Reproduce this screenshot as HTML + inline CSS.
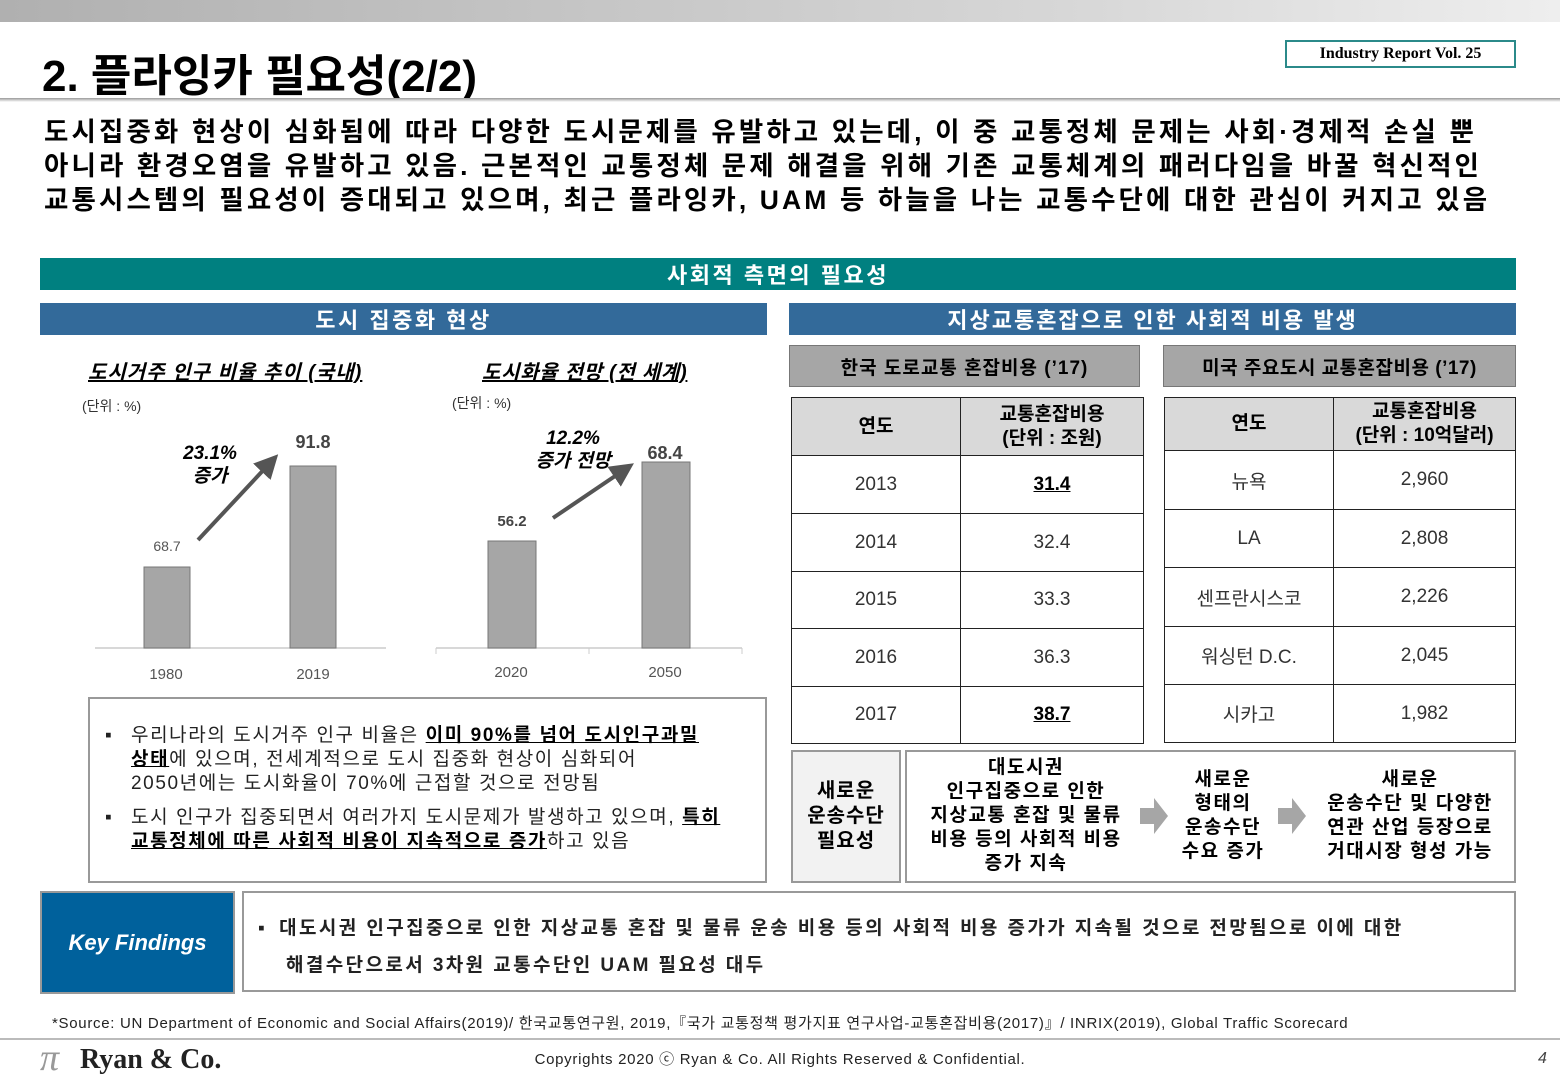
<!DOCTYPE html>
<html><head><meta charset="utf-8"><style>
*{margin:0;padding:0;box-sizing:border-box}
body{width:1560px;height:1080px;position:relative;background:#fff;font-family:"Liberation Sans","Noto Sans CJK KR",sans-serif;color:#000;overflow:hidden}
.a{position:absolute}
.c{display:flex;align-items:center;justify-content:center;text-align:center}
table{border-collapse:collapse;position:absolute}
td{border:1.5px solid #222;text-align:center;font-size:19px;color:#333}
th{border:1.5px solid #222;background:#d9d9d9;font-size:19px;font-weight:bold;line-height:24px}
.u{text-decoration:underline;font-weight:bold;color:#000}
</style></head><body>
<div class="a" style="left:0;top:0;width:1560px;height:22px;background:linear-gradient(90deg,#b0b0b0,#d8d8d8 70%,#eee)"></div>
<div class="a" style="left:42px;top:40px;font-size:44px;font-weight:bold;letter-spacing:0px">2. 플라잉카 필요성(2/2)</div>
<div class="a" style="left:0;top:98px;width:1560px;height:4px;background:linear-gradient(180deg,#999,#fff)"></div>
<div class="a c" style="left:1285px;top:40px;width:231px;height:28px;border:2px solid #2b8a8a;font-family:'Liberation Serif',serif;font-weight:bold;font-size:16px">Industry Report Vol. 25</div>
<div class="a" style="left:44px;top:115px;font-size:26.5px;font-weight:bold;line-height:34px;white-space:nowrap;letter-spacing:3.1px">도시집중화 현상이 심화됨에 따라 다양한 도시문제를 유발하고 있는데, 이 중 교통정체 문제는 사회·경제적 손실 뿐<br>아니라 환경오염을 유발하고 있음. 근본적인 교통정체 문제 해결을 위해 기존 교통체계의 패러다임을 바꿀 혁신적인<br>교통시스템의 필요성이 증대되고 있으며, 최근 플라잉카, UAM 등 하늘을 나는 교통수단에 대한 관심이 커지고 있음</div>
<div class="a c" style="left:40px;top:258px;width:1476px;height:32px;background:#008080;color:#fff;font-size:22px;font-weight:bold;letter-spacing:2.5px">사회적 측면의 필요성</div>
<div class="a c" style="left:40px;top:303px;width:727px;height:32px;background:#336a9a;color:#fff;font-size:22px;font-weight:bold;letter-spacing:2.5px">도시 집중화 현상</div>
<div class="a c" style="left:789px;top:303px;width:727px;height:32px;background:#336a9a;color:#fff;font-size:22px;font-weight:bold;letter-spacing:2px">지상교통혼잡으로 인한 사회적 비용 발생</div>
<div class="a" style="left:88px;top:356px;font-size:20px;font-style:italic;font-weight:bold;text-decoration:underline;letter-spacing:1px">도시거주 인구 비율 추이 (국내)</div>
<div class="a" style="left:482px;top:356px;font-size:20px;font-style:italic;font-weight:bold;text-decoration:underline;letter-spacing:0.7px">도시화율 전망 (전 세계)</div>
<div class="a" style="left:82px;top:396px;font-size:14px;color:#333">(단위 : %)</div>
<div class="a" style="left:452px;top:393px;font-size:14px;color:#333">(단위 : %)</div>
<svg class="a" style="left:0;top:0" width="780" height="700">
<defs><marker id="m" markerWidth="6" markerHeight="6" refX="3" refY="3" orient="auto"><path d="M0,0L6,3L0,6z" fill="#555"/></marker></defs>
<line x1="95" y1="648" x2="386" y2="648" stroke="#ccc" stroke-width="1.5"/>
<line x1="436" y1="648" x2="742" y2="648" stroke="#ccc" stroke-width="1.5"/>
<line x1="589" y1="648" x2="589" y2="654" stroke="#ccc"/><line x1="436" y1="648" x2="436" y2="654" stroke="#ccc"/><line x1="742" y1="648" x2="742" y2="654" stroke="#ccc"/>
<rect x="144" y="567" width="46" height="81" fill="#a6a6a6" stroke="#777"/>
<rect x="290" y="466" width="46" height="182" fill="#a6a6a6" stroke="#777"/>
<rect x="488" y="541" width="48" height="107" fill="#a6a6a6" stroke="#777"/>
<rect x="642" y="462" width="48" height="186" fill="#a6a6a6" stroke="#777"/>
<line x1="198" y1="540" x2="270" y2="463" stroke="#555" stroke-width="4" marker-end="url(#m)"/>
<line x1="553" y1="518" x2="624" y2="470" stroke="#555" stroke-width="4" marker-end="url(#m)"/>
<g font-family="Liberation Sans,Noto Sans CJK KR,sans-serif" text-anchor="middle">
<text x="167" y="551" font-size="14" fill="#555">68.7</text>
<text x="313" y="448" font-size="18" font-weight="bold" fill="#444">91.8</text>
<text x="512" y="526" font-size="15" font-weight="bold" fill="#444">56.2</text>
<text x="665" y="459" font-size="18" font-weight="bold" fill="#444">68.4</text>
<text x="166" y="679" font-size="15" fill="#555">1980</text>
<text x="313" y="679" font-size="15" fill="#555">2019</text>
<text x="511" y="677" font-size="15" fill="#555">2020</text>
<text x="665" y="677" font-size="15" fill="#555">2050</text>
<g font-size="19" font-weight="bold" font-style="italic"><text x="210" y="459">23.1%</text><text x="210" y="482">증가</text><text x="573" y="444">12.2%</text><text x="573" y="467">증가 전망</text></g>
</g></svg>
<div class="a" style="left:88px;top:697px;width:679px;height:186px;border:2px solid #999"></div>
<div class="a" style="left:105px;top:724px;width:660px;font-size:19px;line-height:24px;color:#222;letter-spacing:1.6px;white-space:nowrap">
<div style="padding-left:26px;position:relative"><span style="position:absolute;left:0">▪</span>우리나라의 도시거주 인구 비율은 <span class="u">이미 90%를 넘어 도시인구과밀<br>상태</span>에 있으며, 전세계적으로 도시 집중화 현상이 심화되어<br>2050년에는 도시화율이 70%에 근접할 것으로 전망됨</div>
<div style="padding-left:26px;position:relative;margin-top:10px"><span style="position:absolute;left:0">▪</span>도시 인구가 집중되면서 여러가지 도시문제가 발생하고 있으며, <span class="u">특히<br>교통정체에 따른 사회적 비용이 지속적으로 증가</span>하고 있음</div></div>
<div class="a c" style="left:789px;top:345px;width:351px;height:42px;background:#a6a6a6;border:1.5px solid #777;font-size:19px;font-weight:bold;letter-spacing:1px">한국 도로교통 혼잡비용 (’17)</div>
<div class="a c" style="left:1163px;top:345px;width:353px;height:42px;background:#a6a6a6;border:1.5px solid #777;font-size:19px;font-weight:bold;letter-spacing:0.5px">미국 주요도시 교통혼잡비용 (’17)</div>
<table style="left:791px;top:397px;width:353px">
<tr style="height:58px"><th style="width:169px">연도</th><th>교통혼잡비용<br>(단위 : 조원)</th></tr>
<tr style="height:58px"><td>2013</td><td class="u">31.4</td></tr>
<tr style="height:58px"><td>2014</td><td>32.4</td></tr>
<tr style="height:57px"><td>2015</td><td>33.3</td></tr>
<tr style="height:58px"><td>2016</td><td>36.3</td></tr>
<tr style="height:57px"><td>2017</td><td class="u">38.7</td></tr></table>
<table style="left:1164px;top:397px;width:352px">
<tr style="height:53px"><th style="width:169px">연도</th><th>교통혼잡비용<br>(단위 : 10억달러)</th></tr>
<tr style="height:59px"><td>뉴욕</td><td>2,960</td></tr>
<tr style="height:58px"><td>LA</td><td>2,808</td></tr>
<tr style="height:59px"><td>센프란시스코</td><td>2,226</td></tr>
<tr style="height:58px"><td>워싱턴 D.C.</td><td>2,045</td></tr>
<tr style="height:58px"><td>시카고</td><td>1,982</td></tr></table>
<div class="a c" style="left:791px;top:750px;width:110px;height:133px;border:2px solid #999;background:#f2f2f2;font-size:20px;font-weight:bold;line-height:25px;letter-spacing:1px">새로운<br>운송수단<br>필요성</div>
<div class="a" style="left:905px;top:750px;width:611px;height:133px;border:2px solid #999"></div>
<div class="a c" style="left:912px;top:756px;width:228px;height:120px;font-size:19px;font-weight:bold;line-height:24px;letter-spacing:1.5px">대도시권<br>인구집중으로 인한<br>지상교통 혼잡 및 물류<br>비용 등의 사회적 비용<br>증가 지속</div>
<div class="a c" style="left:1168px;top:756px;width:110px;height:120px;font-size:19px;font-weight:bold;line-height:24px;letter-spacing:1.5px">새로운<br>형태의<br>운송수단<br>수요 증가</div>
<div class="a c" style="left:1305px;top:756px;width:210px;height:120px;font-size:19px;font-weight:bold;line-height:24px;letter-spacing:1.5px">새로운<br>운송수단 및 다양한<br>연관 산업 등장으로<br>거대시장 형성 가능</div>
<svg class="a" style="left:1138px;top:798px" width="170" height="40"><path d="M2,10h14v-10l14,18l-14,18v-10h-14z" fill="#a6a6a6"/><path d="M140,10h14v-10l14,18l-14,18v-10h-14z" fill="#a6a6a6"/></svg>
<div class="a c" style="left:40px;top:891px;width:195px;height:103px;background:#00619c;border:2px solid #999;color:#fff;font-size:22px;font-weight:bold;font-style:italic">Key Findings</div>
<div class="a" style="left:242px;top:891px;width:1274px;height:101px;border:2px solid #999"></div>
<div class="a" style="left:258px;top:910px;font-size:19px;font-weight:bold;line-height:37px;color:#222;letter-spacing:2.4px;white-space:nowrap"><span style="margin-right:12px">▪</span>대도시권 인구집중으로 인한 지상교통 혼잡 및 물류 운송 비용 등의 사회적 비용 증가가 지속될 것으로 전망됨으로 이에 대한<br><span style="margin-left:28px">해결수단으로서 3차원 교통수단인 UAM 필요성 대두</span></div>
<div class="a" style="left:52px;top:1012px;font-size:15px;color:#222;white-space:nowrap;letter-spacing:0.7px">*Source: UN Department of Economic and Social Affairs(2019)/ 한국교통연구원, 2019,『국가 교통정책 평가지표 연구사업-교통혼잡비용(2017)』/ INRIX(2019), Global Traffic Scorecard</div>
<div class="a" style="left:0;top:1038px;width:1560px;height:2px;background:#bbb"></div>
<div class="a" style="left:40px;top:1036px;font-family:'Liberation Serif',serif;font-size:38px;color:#999;font-style:italic">π</div>
<div class="a" style="left:80px;top:1044px;font-family:'Liberation Serif',serif;font-size:28px;font-weight:bold;color:#222">Ryan &amp; Co.</div>
<div class="a" style="left:0;top:1048px;width:1560px;text-align:center;font-size:15px;color:#222;letter-spacing:0.7px">Copyrights 2020 ⓒ Ryan &amp; Co. All Rights Reserved &amp; Confidential.</div>
<div class="a" style="left:1538px;top:1050px;font-size:16px;font-style:italic;color:#444">4</div>
</body></html>
